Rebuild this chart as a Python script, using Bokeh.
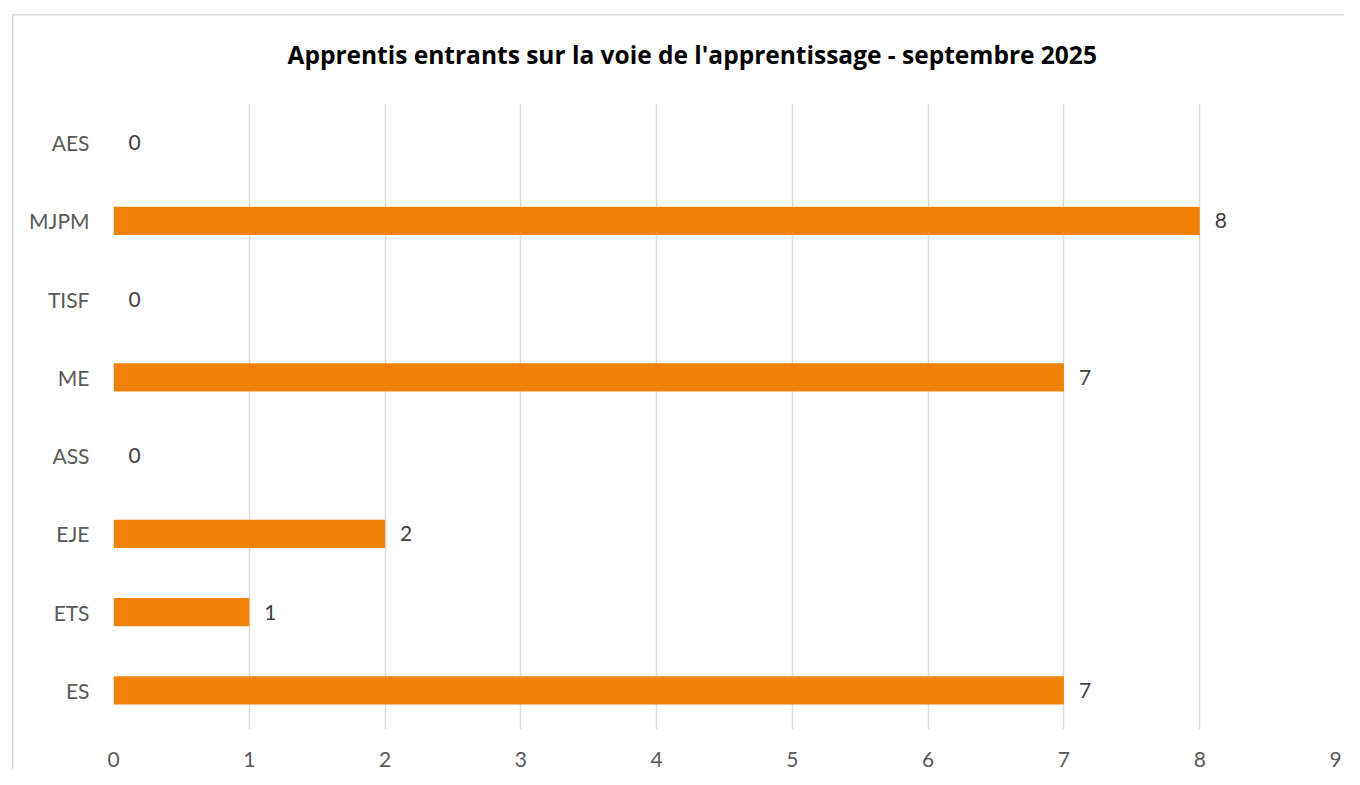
from bokeh.plotting import figure
from bokeh.models import ColumnDataSource, Title, LabelSet
from bokeh.core.properties import value
from bokeh.embed import file_html
from bokeh.resources import INLINE

categories = ["ES", "ETS", "EJE", "ASS", "ME", "TISF", "MJPM", "AES"]
values = [7, 1, 2, 0, 7, 0, 8, 0]
x_ticks = [0, 1, 2, 3, 4, 5, 6, 7, 8, 9]
title_text = "Apprentis entrants sur la voie de l'apprentissage - septembre 2025"

FONT = "Lato"
src = ColumnDataSource(dict(cat=categories, val=values, lab=[str(v) for v in values]))

p = figure(width=1344, height=769, y_range=categories, x_range=(0, 9),
           output_backend="svg", toolbar_location=None,
           min_border_left=113, min_border_right=9, min_border_top=103, min_border_bottom=40)
p.title = None
t = Title(text=title_text, align="left", text_font="Open Sans", text_font_size="24.5px",
          text_font_style="bold", text_color="black", standoff=65, offset=174)
p.add_layout(t, "above")

p.hbar(y="cat", right="val", left=0, height=0.36, source=src,
       fill_color="#F0820A", line_color=None)

labels = LabelSet(x="val", y="cat", text="lab", source=src, x_offset=15, y_offset=0,
                  text_align="left", text_baseline="middle", text_font=value(FONT),
                  text_font_size=value("21px"), text_color="#404040")
p.add_layout(labels)

p.outline_line_color = None
p.background_fill_color = "white"
p.border_fill_color = None
p.ygrid.grid_line_color = None
p.xgrid.grid_line_color = "#d9d9d9"
p.xgrid.grid_line_width = 1.5
p.xgrid.ticker = x_ticks
p.xaxis.ticker = x_ticks
p.y_range.range_padding = 0

for ax in (p.xaxis[0], p.yaxis[0]):
    ax.axis_line_color = None
    ax.major_tick_line_color = None
    ax.minor_tick_line_color = None
    ax.major_label_text_font = FONT
    ax.major_label_text_font_size = "21px"
    ax.major_label_text_color = "#595959"
p.xaxis.major_label_standoff = 16
p.yaxis.major_label_standoff = 18

p.styles = {
    "background-color": "white",
    "background-image": "linear-gradient(#d9d9d9, #d9d9d9), linear-gradient(#d9d9d9, #d9d9d9)",
    "background-size": "1.5px 100%, 100% 1.5px",
    "background-position": "12px 14px, 12px 14px",
    "background-repeat": "no-repeat",
}

open("out.html", "w").write(file_html(p, INLINE))
